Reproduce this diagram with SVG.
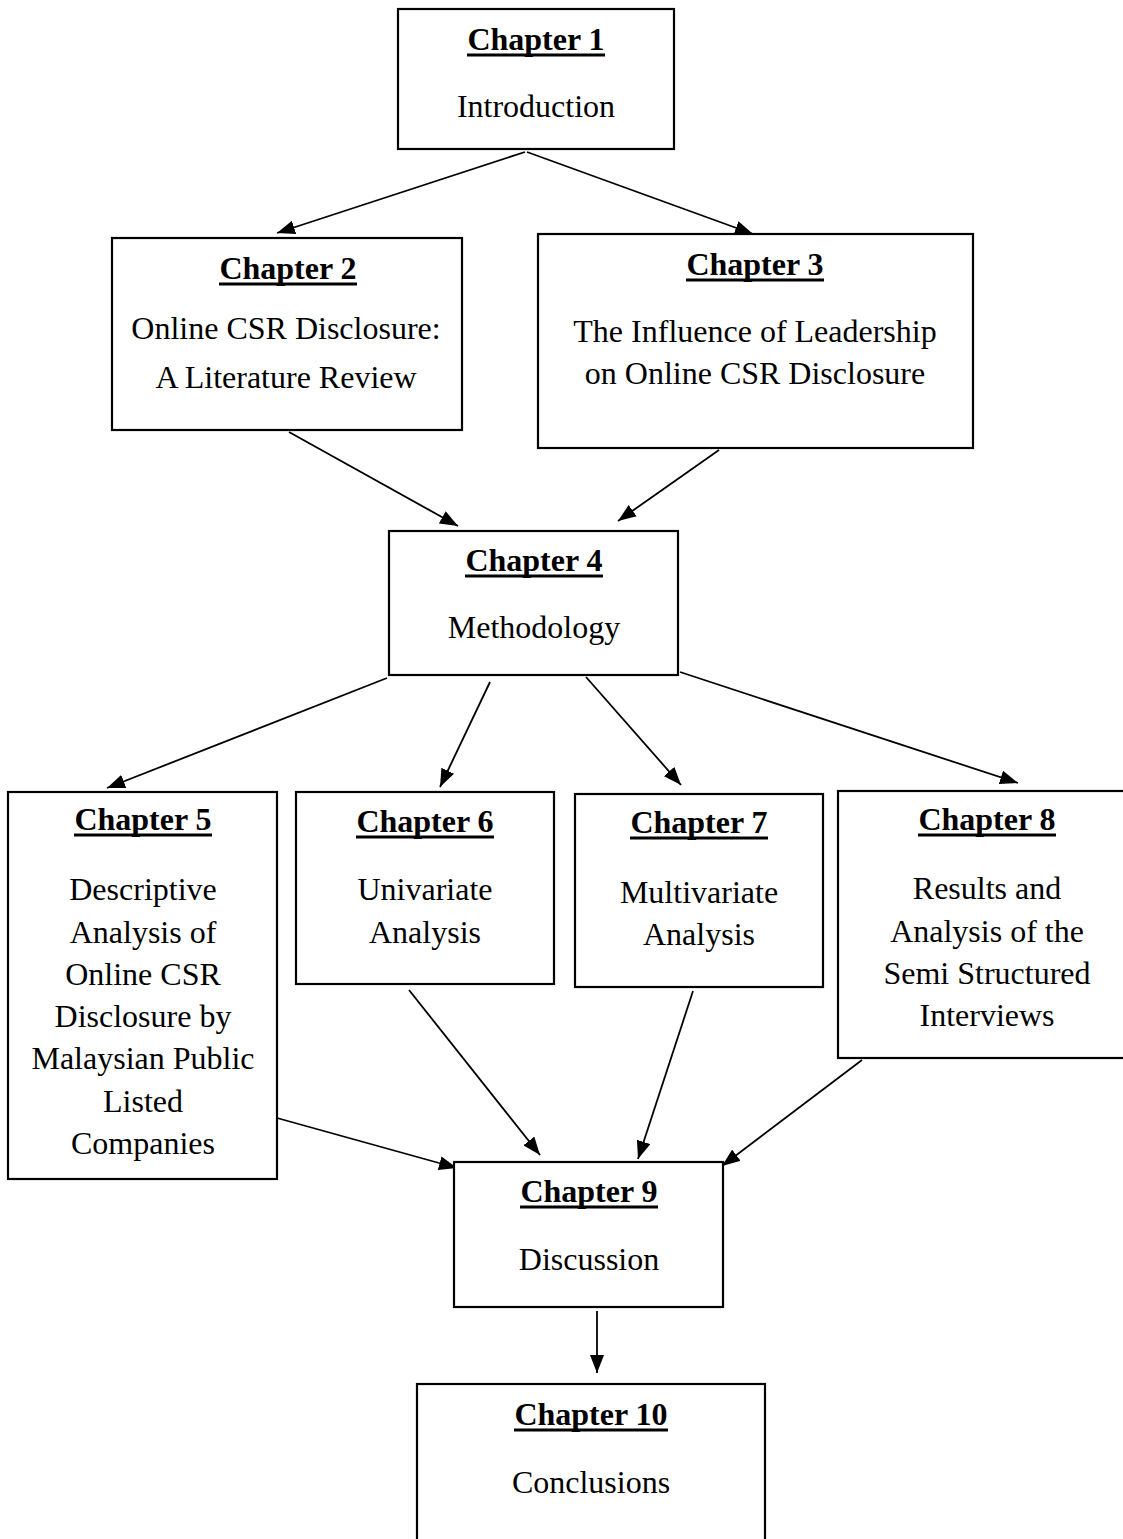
<svg xmlns="http://www.w3.org/2000/svg" width="1123" height="1539" viewBox="0 0 1123 1539">
<style>
.box{fill:#fff;stroke:#000;stroke-width:2.2}
.t{font-family:"Liberation Serif","Times New Roman",serif;font-size:32px;font-weight:bold;text-anchor:middle;fill:#000}
.b{font-family:"Liberation Serif","Times New Roman",serif;font-size:32px;text-anchor:middle;fill:#000}
.u{stroke:#000;stroke-width:3}
.c{stroke:#000;stroke-width:1.8;fill:none;marker-end:url(#ah)}
</style>
<defs>
<marker id="ah" markerUnits="userSpaceOnUse" markerWidth="18" markerHeight="14" refX="18" refY="7" orient="auto">
<path d="M0,0 L18,7 L0,14 z" fill="#000"/>
</marker>
</defs>
<rect width="1123" height="1539" fill="#fff"/>
<g id="connectors">
<line class="c" x1="525" y1="152" x2="277" y2="233"/>
<line class="c" x1="527" y1="152" x2="753" y2="234"/>
<line class="c" x1="289" y1="432" x2="458" y2="526"/>
<line class="c" x1="719" y1="450" x2="618" y2="521"/>
<line class="c" x1="387" y1="678" x2="107" y2="788"/>
<line class="c" x1="490" y1="682" x2="440" y2="787"/>
<line class="c" x1="586" y1="677" x2="681" y2="785"/>
<line class="c" x1="680" y1="672" x2="1018" y2="783"/>
<line class="c" x1="277" y1="1118" x2="457" y2="1168"/>
<line class="c" x1="409" y1="990" x2="540" y2="1155"/>
<line class="c" x1="693" y1="991" x2="638" y2="1159"/>
<line class="c" x1="862" y1="1060" x2="722" y2="1166"/>
<line class="c" x1="597" y1="1311" x2="597" y2="1373"/>
</g>
<g id="ch1">
<rect class="box" x="398" y="9" width="276" height="140"/>
<text class="t" x="536" y="50">Chapter 1</text>
<line class="u" x1="467" y1="55" x2="605" y2="55"/>
<text class="b" x="536" y="117">Introduction</text>
</g>
<g id="ch2">
<rect class="box" x="112" y="238" width="350" height="192"/>
<text class="t" x="288" y="279">Chapter 2</text>
<line class="u" x1="219" y1="284" x2="357" y2="284"/>
<text class="b" x="286" y="339">Online CSR Disclosure:</text>
<text class="b" x="286" y="388">A Literature Review</text>
</g>
<g id="ch3">
<rect class="box" x="538" y="234" width="435" height="214"/>
<text class="t" x="755" y="275">Chapter 3</text>
<line class="u" x1="686" y1="280" x2="824" y2="280"/>
<text class="b" x="755" y="342">The Influence of Leadership</text>
<text class="b" x="755" y="384">on Online CSR Disclosure</text>
</g>
<g id="ch4">
<rect class="box" x="389" y="531" width="289" height="144"/>
<text class="t" x="534" y="571">Chapter 4</text>
<line class="u" x1="465" y1="576" x2="603" y2="576"/>
<text class="b" x="534" y="638">Methodology</text>
</g>
<g id="ch5">
<rect class="box" x="8" y="792" width="269" height="387"/>
<text class="t" x="143" y="830">Chapter 5</text>
<line class="u" x1="74" y1="835" x2="212" y2="835"/>
<text class="b" x="143" y="900">Descriptive</text>
<text class="b" x="143" y="943">Analysis of</text>
<text class="b" x="143" y="985">Online CSR</text>
<text class="b" x="143" y="1027">Disclosure by</text>
<text class="b" x="143" y="1069">Malaysian Public</text>
<text class="b" x="143" y="1112">Listed</text>
<text class="b" x="143" y="1154">Companies</text>
</g>
<g id="ch6">
<rect class="box" x="296" y="792" width="258" height="192"/>
<text class="t" x="425" y="832">Chapter 6</text>
<line class="u" x1="356" y1="837" x2="494" y2="837"/>
<text class="b" x="425" y="900">Univariate</text>
<text class="b" x="425" y="943">Analysis</text>
</g>
<g id="ch7">
<rect class="box" x="575" y="794" width="248" height="193"/>
<text class="t" x="699" y="833">Chapter 7</text>
<line class="u" x1="630" y1="838" x2="768" y2="838"/>
<text class="b" x="699" y="903">Multivariate</text>
<text class="b" x="699" y="945">Analysis</text>
</g>
<g id="ch8">
<rect class="box" x="838" y="791" width="298" height="267"/>
<text class="t" x="987" y="830">Chapter 8</text>
<line class="u" x1="918" y1="835" x2="1056" y2="835"/>
<text class="b" x="987" y="899">Results and</text>
<text class="b" x="987" y="942">Analysis of the</text>
<text class="b" x="987" y="984">Semi Structured</text>
<text class="b" x="987" y="1026">Interviews</text>
</g>
<g id="ch9">
<rect class="box" x="454" y="1162" width="269" height="145"/>
<text class="t" x="589" y="1202">Chapter 9</text>
<line class="u" x1="520" y1="1207" x2="658" y2="1207"/>
<text class="b" x="589" y="1270">Discussion</text>
</g>
<g id="ch10">
<rect class="box" x="417" y="1384" width="348" height="200"/>
<text class="t" x="591" y="1425">Chapter 10</text>
<line class="u" x1="514" y1="1430" x2="668" y2="1430"/>
<text class="b" x="591" y="1493">Conclusions</text>
</g>
</svg>
